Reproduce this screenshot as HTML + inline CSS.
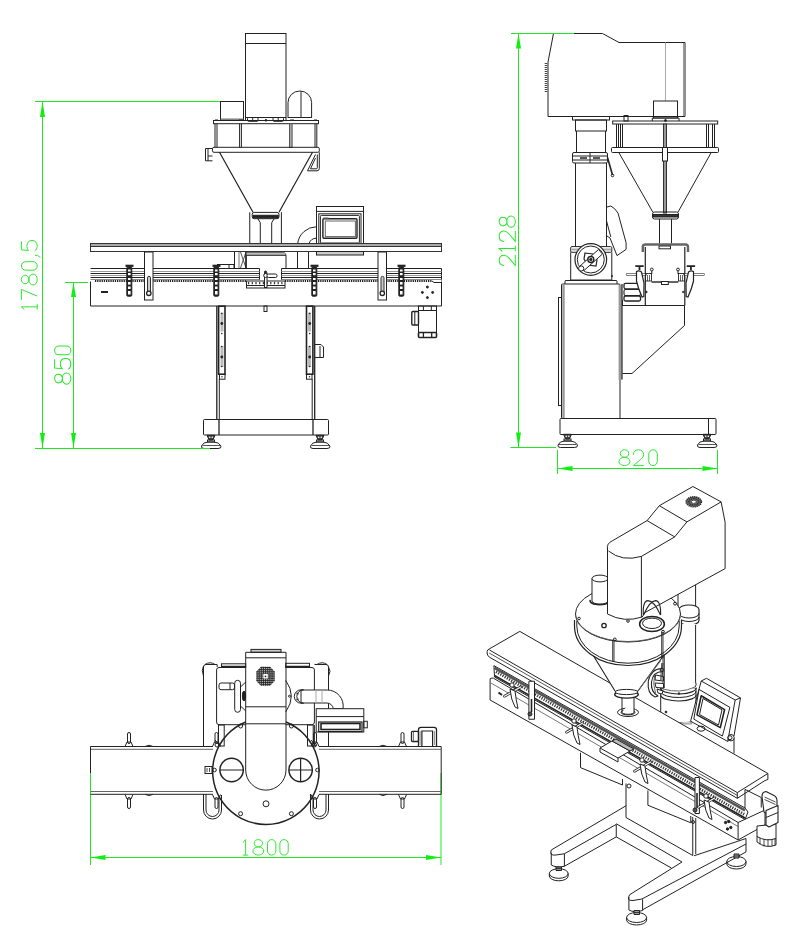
<!DOCTYPE html>
<html><head><meta charset="utf-8">
<style>
html,body{margin:0;padding:0;background:#fff;width:800px;height:943px;overflow:hidden}
svg{display:block}
.g{stroke:#22e622;fill:none;stroke-width:1}
.ga{fill:#11ee11;stroke:none}
.gt{fill:none;stroke:#2ae62a;stroke-width:1;font-family:"Liberation Sans",sans-serif;font-weight:normal}
</style></head><body>
<svg width="800" height="943" viewBox="0 0 800 943">
<defs>
<path id="d1" d="M0,3 L2.8,0 V16 M0,16 H5.6"/>
<path id="d8" d="M5.6,0 C8,0 9.9,1.6 9.9,3.8 C9.9,6 8,7.6 5.6,7.6 C3.2,7.6 1.3,6 1.3,3.8 C1.3,1.6 3.2,0 5.6,0 Z M5.6,7.6 C8.7,7.6 11.1,9.4 11.1,11.8 C11.1,14.2 8.7,16 5.6,16 C2.5,16 0,14.2 0,11.8 C0,9.4 2.5,7.6 5.6,7.6 Z"/>
<path id="d0" d="M0,4.3 A4.3,4.3 0 0 1 8.6,4.3 V11.7 A4.3,4.3 0 0 1 0,11.7 Z"/>
<path id="d2" d="M0.4,4.9 C0.4,1.8 2.6,0 5.5,0 C8.6,0 10.7,1.9 10.7,4.8 C10.7,6.9 9.6,8.3 7.2,10.2 L0.4,16 H11"/>
<path id="d7" d="M0,0 H10.5 L3.8,16"/>
<path id="d5" d="M10,0 H1.3 L0.7,7.3 C2,6.1 3.6,5.6 5.4,5.6 C8.7,5.6 10.8,7.8 10.8,10.8 C10.8,14 8.6,16 5.4,16 C3,16 1.2,15.1 0.2,13.5"/>
<path id="dc" d="M2.6,13.8 V16.2 L0.4,19.2"/>
</defs>
<g fill="none" stroke="#222" stroke-width="1">
<!-- ============ FRONT VIEW (top-left) ============ -->
<!-- motor box -->
<rect x="245.5" y="33.5" width="40.5" height="84"/>
<line x1="245.5" y1="43.5" x2="286" y2="43.5" stroke-width="1.2"/>
<path d="M245.5,117.5 V121 M286,117.5 V121"/>
<rect x="247.5" y="117.5" width="10.5" height="3.8" rx="1"/><line x1="252.7" y1="117.5" x2="252.7" y2="121.3"/>
<rect x="273" y="117.5" width="10.5" height="3.8" rx="1"/><line x1="278.2" y1="117.5" x2="278.2" y2="121.3"/>
<circle cx="265.9" cy="120.3" r="0.9" fill="#222"/>
<!-- small box -->
<rect x="220.5" y="101.5" width="23" height="18.5"/>
<line x1="220.5" y1="119" x2="243.5" y2="119" stroke="#777"/>
<!-- dome -->
<path d="M288,118 V102.5 A11.8,11.5 0 0 1 311.6,102.5 V118"/>
<line x1="301" y1="91.5" x2="301" y2="117"/>
<line x1="288" y1="117.5" x2="311.6" y2="117.5"/>
<!-- top plate -->
<rect x="213.5" y="120.5" width="105" height="3.2"/>
<path d="M215,120.2 h3 M239,120.2 h4 M290,120.2 h4 M314,120.2 h3" stroke-width="1.6"/>
<!-- posts -->
<line x1="215" y1="123.7" x2="215" y2="147.5"/><line x1="217" y1="123.7" x2="217" y2="147.5"/>
<line x1="239.6" y1="123.7" x2="239.6" y2="147.5"/><line x1="241.4" y1="123.7" x2="241.4" y2="147.5"/>
<rect x="289.5" y="123.7" width="2.6" height="23.8" fill="#aaa" stroke="#555"/>
<line x1="315" y1="123.7" x2="315" y2="147.5"/><line x1="316.8" y1="123.7" x2="316.8" y2="147.5"/>
<!-- lower band -->
<rect x="212.5" y="147.3" width="106.8" height="5" rx="1.5"/>
<!-- left bracket -->
<path d="M212.5,148.5 H205.5 V160.8 H212.5 M208,148.5 V160.8 M208,156 H212.5"/>
<!-- cone -->
<path d="M219.5,152.3 L253,212.2 M312.5,152.3 L279,212.2" stroke-width="1.2"/>
<!-- right bracket -->
<path d="M319.3,152.3 V168.5 Q319.3,170.8 317,170.8 H307.5 L315.5,154.5 M317.3,154.5 V167.8 Q317.3,168.8 316.3,168.8 H310.5 L315.5,158"/>
<!-- collar -->
<rect x="252.2" y="212.4" width="26.8" height="6.3" rx="2"/>
<rect x="253" y="215.3" width="25.2" height="2.6" fill="#222"/>
<path d="M257.9,218.7 L260.3,222.75 V243.5 M274.1,218.7 L271.7,222.75 V243.5"/>
<!-- spout/pipes -->
<line x1="249.75" y1="212.2" x2="249.75" y2="243.5"/><line x1="281.4" y1="212.2" x2="281.4" y2="243.5"/>
<!-- screen box -->
<rect x="316.5" y="206.5" width="47" height="37"/>
<line x1="316.5" y1="211.4" x2="363.5" y2="211.4"/>
<rect x="318.8" y="213.8" width="42.2" height="29.7"/>
<rect x="320.4" y="215.4" width="39" height="27.6" rx="1"/>
<rect x="322.9" y="218.7" width="34.1" height="19.5" rx="1" stroke-width="1.4"/>
<rect x="325.3" y="221" width="30.1" height="15.6" stroke="#666"/>
<rect x="323.5" y="217.5" width="5" height="1.6" fill="#555" stroke="none"/>
<!-- elbow -->
<path d="M316.4,226.8 A19,19 0 0 0 297.7,243.5 M316.4,238.2 A8,8 0 0 0 309,243.5"/>
<!-- table top -->
<rect x="90.5" y="243.5" width="351" height="3" fill="#aaa" stroke="#333"/>
<rect x="90.5" y="246.5" width="351" height="5" fill="#fff" stroke="#333"/>
<rect x="316.5" y="251.5" width="47" height="3.5" fill="#ccc"/>
<!-- posts under table -->
<line x1="234.5" y1="252" x2="234.5" y2="268"/><line x1="239" y1="252" x2="239" y2="268" stroke="#777"/>
<path d="M240.5,252 L246,268 M246,252 L240.5,268" stroke="#555"/>
<line x1="246" y1="252" x2="246" y2="268" stroke-width="1.5"/>
<path d="M246,268 V252.5 H284 Q286,253 286,256 V268"/>
<rect x="246.5" y="252.5" width="39" height="2.8" fill="#bbb" stroke="none"/>
<line x1="246" y1="255.3" x2="286" y2="255.3"/>
<line x1="297.5" y1="252" x2="297.5" y2="268"/>
<line x1="308.5" y1="252" x2="308.5" y2="268"/>
<rect x="217.5" y="264.5" width="16.5" height="4"/>
<line x1="229" y1="264.5" x2="229" y2="268.5"/>
<!-- conveyor rails (front view) -->
<g stroke="#222" stroke-width="1">
<path d="M90.5,268.5 H259.5 V280 M281.5,280 V268.5 H441.5 V280.5"/>
<line x1="90.5" y1="271.5" x2="259.5" y2="271.5" stroke="#999"/><line x1="281.5" y1="271.5" x2="441.5" y2="271.5" stroke="#999"/>
<line x1="90.5" y1="273.5" x2="259.5" y2="273.5"/><line x1="281.5" y1="273.5" x2="441.5" y2="273.5"/>
<line x1="90.5" y1="275.5" x2="259.5" y2="275.5" stroke="#999"/><line x1="281.5" y1="275.5" x2="441.5" y2="275.5" stroke="#999"/>
<line x1="90.5" y1="277.5" x2="259.5" y2="277.5"/><line x1="281.5" y1="277.5" x2="441.5" y2="277.5"/>
<line x1="90.5" y1="279.5" x2="259.5" y2="279.5" stroke="#888"/><line x1="281.5" y1="279.5" x2="441.5" y2="279.5" stroke="#888"/>
</g>
<line x1="95" y1="281" x2="246" y2="281" stroke="#222" stroke-width="1.8" stroke-dasharray="1.3 0.9"/>
<line x1="285" y1="281" x2="432" y2="281" stroke="#222" stroke-width="1.8" stroke-dasharray="1.3 0.9"/>
<path d="M432,281 L434,282.5 H441.5"/>
<!-- chain box middle -->
<rect x="246.5" y="281" width="38.5" height="7" fill="#fff"/>
<line x1="246.5" y1="285.5" x2="285" y2="285.5"/>
<line x1="248" y1="283.2" x2="284" y2="283.2" stroke="#333" stroke-width="2.2" stroke-dasharray="1.2 2.5"/>
<rect x="264.5" y="273" width="2.5" height="14.5" fill="#fff"/>
<circle cx="265.7" cy="275.5" r="2" fill="#fff"/>
<rect x="267" y="274" width="10" height="3.5" rx="1.5" fill="#fff"/>
<circle cx="265.5" cy="272" r="1" fill="#222"/>
<!-- front plate -->
<path d="M90.5,281.5 V306 H441.5 V281.5"/>
<line x1="101" y1="292" x2="108" y2="292" stroke-width="2"/>
<circle cx="427.4" cy="287" r="1" fill="#222"/><circle cx="422.4" cy="292.4" r="1" fill="#222"/>
<circle cx="432.6" cy="292.4" r="1" fill="#222"/><circle cx="427.4" cy="297.6" r="1" fill="#222"/>
<!-- leg brackets hanging from table -->
<rect x="144.5" y="252" width="8.5" height="48" fill="#fff"/>
<rect x="147.5" y="276.3" width="3" height="18" rx="1.5" fill="#ccc" stroke="#333"/>
<circle cx="148.8" cy="293.3" r="2.2" fill="#fff" stroke-width="1.3"/>
<rect x="378" y="252" width="8.5" height="48" fill="#fff"/>
<rect x="381" y="276.3" width="3" height="18" rx="1.5" fill="#ccc" stroke="#333"/>
<circle cx="382.3" cy="293.3" r="2.2" fill="#fff" stroke-width="1.3"/>
<!-- clamps -->
<g id="clampF">
<path d="M125.5,265.8 H133.5" stroke-width="2.2"/>
<rect x="126.8" y="267" width="5" height="29.2" rx="1" fill="#222" stroke="#222"/>
<g fill="#fff" stroke="none">
<rect x="128" y="269.5" width="2.6" height="2"/><rect x="128" y="273" width="2.6" height="2.2"/>
<rect x="128" y="278" width="2.6" height="2"/><rect x="128" y="282" width="2.6" height="2.6"/>
<rect x="128" y="286.5" width="2.6" height="2.5"/><rect x="128" y="291" width="2.6" height="3.5"/>
</g>
</g>
<use href="#clampF" x="87"/>
<use href="#clampF" x="185"/>
<use href="#clampF" x="272"/>
<!-- small tab under -->
<rect x="264" y="306" width="3" height="5.5"/>
<!-- motor -->
<rect x="418.5" y="306" width="18" height="4.5"/>
<line x1="423.4" y1="306" x2="423.4" y2="310.5"/><line x1="431.3" y1="306" x2="431.3" y2="310.5"/>
<rect x="418.5" y="310.5" width="18" height="22"/>
<rect x="418.5" y="332.5" width="18" height="5" rx="1" stroke-width="1.6"/>
<line x1="423.4" y1="332.5" x2="423.4" y2="337.5" stroke-width="1.3"/><line x1="431.7" y1="332.5" x2="431.7" y2="337.5" stroke-width="1.3"/>
<rect x="411.8" y="311.5" width="6.7" height="13.5" rx="1" stroke-width="1.4"/>
<line x1="414.8" y1="311.5" x2="414.8" y2="325"/>
<!-- legs -->
<g id="legF">
<rect x="218.6" y="306.2" width="6.4" height="68" stroke-width="1.6" fill="#fff"/>
<rect x="220.5" y="312.5" width="3" height="19" fill="#bbb" stroke="none"/>
<rect x="220.5" y="346" width="3" height="21" fill="#bbb" stroke="none"/>
<circle cx="221.8" cy="313.5" r="0.8" fill="#222" stroke="none"/><circle cx="221.8" cy="323.5" r="1.4" fill="#222" stroke="none"/>
<circle cx="221.8" cy="333.5" r="0.8" fill="#222" stroke="none"/><circle cx="221.8" cy="346.5" r="0.8" fill="#222" stroke="none"/>
<circle cx="221.8" cy="357" r="1.4" fill="#222" stroke="none"/><circle cx="221.8" cy="366.5" r="0.8" fill="#222" stroke="none"/>
<rect x="219.5" y="374.5" width="5.5" height="4.7"/>
<circle cx="222" cy="376.8" r="0.7" fill="#222" stroke="none"/>
<line x1="216.8" y1="306" x2="216.8" y2="419.5" stroke-width="1.3"/>
<line x1="219.3" y1="379" x2="219.3" y2="419.5"/>
</g>
<use href="#legF" transform="translate(531.5,0) scale(-1,1)"/>
<path d="M315,344.5 H321 L323.5,347 V357.5 H315"/>
<line x1="320" y1="346" x2="320" y2="357"/>
<!-- base -->
<rect x="203.5" y="419.5" width="125" height="15.5" rx="1"/>
<line x1="219" y1="419.5" x2="219" y2="435" stroke-width="1.3"/><line x1="313" y1="419.5" x2="313" y2="435" stroke-width="1.3"/>
<!-- feet -->
<g id="footF">
<path d="M207,435.3 L209.2,440 H212.8 L215,435.3 Z" fill="#444"/>
<circle cx="209.7" cy="437.2" r="0.8" fill="#fff" stroke="none"/><circle cx="212.3" cy="437.2" r="0.8" fill="#fff" stroke="none"/>
<rect x="207.5" y="440" width="7" height="2"/>
<path d="M201.5,446 Q203,442.2 208,442 H214 Q219,442.2 221,446 Q221.5,448.5 218,448.5 H204 Q201,448.5 201.5,446 Z"/>
<path d="M202.5,445.5 H220" stroke="#555"/>
</g>
<use href="#footF" x="109"/>
</g>

<!-- ============ DIMENSIONS FRONT ============ -->
<g class="g">
<line x1="35" y1="101.5" x2="220" y2="101.5"/>
<line x1="42.5" y1="101" x2="42.5" y2="448"/>
<line x1="35" y1="448.5" x2="210" y2="448.5"/>
<line x1="65" y1="282.5" x2="88" y2="282.5"/>
<line x1="73.5" y1="282" x2="73.5" y2="448"/>
</g>
<path class="ga" d="M42.5,101.5 L40,117 H45 Z M42.5,448 L40,433 H45 Z M73.5,282.5 L71,297 H76 Z M73.5,448 L71,433 H76 Z"/>

<g fill="none" stroke="#222" stroke-width="1">
<!-- ============ SIDE VIEW (top-right) ============ -->
<!-- housing -->
<path d="M553.5,33.5 H602.5 L619,42.5 H685 V116.5 H548 V62 Z"/>
<line x1="683.5" y1="43" x2="683.5" y2="116" stroke="#999"/>
<line x1="665.5" y1="42.5" x2="665.5" y2="101" stroke="#aaa"/>
<rect x="653.5" y="101" width="24" height="17"/>
<path d="M652.3,121 V118 H679 V121" />
<circle cx="665.5" cy="120.5" r="1" fill="#222"/>
<line x1="546" y1="63" x2="546" y2="92" stroke-width="2.6" stroke="#444" stroke-dasharray="1.1 0.9"/>
<rect x="624" y="115.5" width="4" height="5.5"/>
<!-- column -->
<rect x="572.5" y="116.5" width="37" height="3.5"/>
<rect x="575.5" y="120" width="31" height="11"/>
<line x1="576.5" y1="131" x2="576.5" y2="153"/><line x1="605.5" y1="131" x2="605.5" y2="153"/>
<rect x="572.5" y="152.5" width="35" height="10.5" rx="1.5"/>
<line x1="572.5" y1="156" x2="607.5" y2="156"/><line x1="572.5" y1="160" x2="607.5" y2="160"/>
<line x1="590" y1="152.5" x2="590" y2="163"/>
<line x1="580" y1="158" x2="587" y2="158" stroke-width="1.5"/><line x1="593" y1="158" x2="600" y2="158" stroke-width="1.5"/>
<path d="M607.5,157.5 L612.5,175" stroke-width="1.6"/>
<circle cx="612.5" cy="175.5" r="1.3"/>
<line x1="575.5" y1="163" x2="575.5" y2="246.5"/><line x1="606.5" y1="163" x2="606.5" y2="246.5"/>
<!-- paddle -->
<path d="M607,207 L610.8,206 Q615,208 618,213.1 L626.1,242.8 V249.4 L617,255.6 L610,238 L607,236"/>
<path d="M606.5,220.8 L610.8,237"/>
<!-- wheel housing -->
<rect x="570.7" y="246.6" width="41.1" height="5.7" rx="1.2"/>
<rect x="571.5" y="248.5" width="39.5" height="2" fill="#aaa" stroke="none"/>
<path d="M570.7,252.3 V280 H611.8 V252.3"/>
<circle cx="590.8" cy="259.5" r="15.8" fill="#fff" stroke-width="1.2"/>
<circle cx="590.8" cy="259.5" r="13.5"/>
<path d="M585,253 L593,254 L597,260 L596,266 L588,265 L584,259 Z" fill="#fff" stroke-width="1.2"/>
<path d="M580,266 L598.5,249.5 L602.5,254 L584,270.5 Z" fill="#fff"/>
<circle cx="590.8" cy="259.5" r="3" fill="#fff" stroke-width="1.4"/>
<circle cx="590.8" cy="259.5" r="1.2" fill="#222"/>
<circle cx="581.2" cy="268.5" r="2.6" fill="#fff"/>
<circle cx="612" cy="276" r="0.6" fill="#222"/>
<!-- cabinet -->
<path d="M565,284 V281 Q565,280.5 566,280.5 H616 Q617,280.5 617,281 V284"/>
<rect x="561.5" y="284" width="58.5" height="134.5" rx="1"/>
<rect x="562.3" y="285" width="2.4" height="133" fill="#999" stroke="none"/>
<rect x="618.6" y="285" width="3" height="95" fill="#999" stroke="none"/>
<line x1="622" y1="284" x2="622" y2="379.5" stroke-width="1.2"/>
<rect x="558.5" y="297.5" width="3" height="108"/>
<!-- hopper lower -->
<path d="M622.5,305.5 H684.5 V325.5 L632,373.5 H622.5"/>
<!-- small motor block beside -->
<rect x="624" y="283.3" width="16.5" height="5.5" rx="1.5" stroke-width="1.3"/>
<rect x="624" y="289.5" width="16.5" height="6" rx="1.5" stroke-width="1.1"/>
<rect x="624" y="296" width="16.5" height="5" rx="1.5" stroke-width="1.3"/>
<!-- base -->
<rect x="560" y="418.5" width="156" height="16" rx="1"/>
<line x1="708.5" y1="418.5" x2="708.5" y2="435"/>
<use href="#footF" x="356.5" y="-1"/>
<use href="#footF" x="496" y="-1"/>
<!-- hopper top side -->
<rect x="612.7" y="121" width="105" height="3"/>
<line x1="616.5" y1="124" x2="616.5" y2="147.5"/><line x1="618.5" y1="124" x2="618.5" y2="147.5"/>
<line x1="620.5" y1="124" x2="620.5" y2="147.5"/><line x1="622.5" y1="124" x2="622.5" y2="147.5"/>
<line x1="706.5" y1="124" x2="706.5" y2="147.5"/><line x1="708.5" y1="124" x2="708.5" y2="147.5"/>
<line x1="712.5" y1="124" x2="712.5" y2="147.5"/><line x1="714.5" y1="124" x2="714.5" y2="147.5"/>
<rect x="611.5" y="147.5" width="107" height="5" rx="1"/>
<rect x="663.5" y="124" width="3" height="89" fill="#999" stroke="#333"/>
<rect x="662.5" y="147.5" width="5" height="13.5" fill="#fff"/>
<path d="M618.7,152.3 L652.8,212.1 M711.3,152.3 L678,212.1"/>
<rect x="652.5" y="212" width="26" height="7" rx="2"/>
<rect x="653" y="214.5" width="25" height="2.5" fill="#333"/>
<line x1="659.5" y1="219" x2="659.5" y2="243.5"/><line x1="671.5" y1="219" x2="671.5" y2="243.5"/>
<!-- bucket -->
<path d="M642.8,252 V247 Q642.8,244.5 645.5,244.5 H685.5 Q688,244.5 688,247 V252" stroke="#666" stroke-width="2.4"/>
<rect x="659" y="246" width="11.5" height="2.8" fill="#fff"/>
<line x1="645.3" y1="247" x2="645.3" y2="305.5" stroke-width="1.2"/><line x1="684.8" y1="247" x2="684.8" y2="305.5" stroke-width="1.2"/>
<line x1="651.5" y1="282" x2="678.3" y2="282" stroke-width="1.4"/>
<rect x="661.5" y="281.5" width="6.8" height="3" fill="#fff"/>
<line x1="622.5" y1="305.5" x2="684.8" y2="305.5" stroke-width="1.2"/>
<!-- clamps on side view -->
<path d="M627,274.5 H645.5 M684.5,274.5 H703.5" stroke="#555" stroke-width="2.6" stroke-linecap="round"/>
<path d="M627,274.5 H645.5 M684.5,274.5 H703.5" stroke="#fff" stroke-width="1" stroke-linecap="round"/>
<path d="M635.3,266.2 H643.7 M639.5,266 V270 M686.7,266.2 H695.1 M690.9,266 V270" stroke-width="1.8"/>
<path d="M636.5,271.5 Q639,270 641.5,272 L644,283 L643.8,296.5 L642,297 Q638,288 636.5,281 Z" fill="#fff" stroke-width="1.2"/>
<path d="M693.5,271.5 Q691,270 688.5,272 L686,283 L686.2,296.5 L688,297 Q692,288 693.5,281 Z" fill="#fff" stroke-width="1.2"/>
<rect x="645.5" y="273.5" width="6" height="7.5" stroke-width="0.9"/><rect x="678.5" y="273.5" width="6" height="7.5" stroke-width="0.9"/>
<path d="M647.5,275 V281 M649.5,275 V281 M680.5,275 V281 M682.5,275 V281" stroke-width="0.7"/>
<circle cx="651.8" cy="269.5" r="1.4"/><circle cx="678" cy="269.5" r="1.4"/>
<line x1="651.8" y1="271" x2="651.8" y2="274"/><line x1="678" y1="271" x2="678" y2="274"/>
<circle cx="646.5" cy="292" r="0.7" fill="#222"/><circle cx="683.2" cy="292" r="0.7" fill="#222"/>
<line x1="622.5" y1="305.5" x2="622.5" y2="300"/>
</g>

<g class="g">
<line x1="511" y1="33.5" x2="574" y2="33.5"/>
<line x1="518.5" y1="33.5" x2="518.5" y2="447.5"/>
<line x1="510.5" y1="447.5" x2="556" y2="447.5"/>
<line x1="557.5" y1="450" x2="557.5" y2="474"/>
<line x1="717.5" y1="450" x2="717.5" y2="474"/>
<line x1="557.5" y1="468.5" x2="717.5" y2="468.5"/>
<line x1="90.5" y1="773" x2="90.5" y2="865"/>
<line x1="441" y1="773" x2="441" y2="865"/>
<line x1="90.5" y1="857.5" x2="441" y2="857.5"/>
</g>
<path class="ga" d="M518.5,33.5 L516,48.5 H521 Z M518.5,447.5 L516,432.5 H521 Z M557.5,468.5 L572.5,466 V471 Z M717.5,468.5 L702.5,466 V471 Z M90.5,857.5 L105.5,855 V860 Z M441,857.5 L426,855 V860 Z"/>


<g fill="none" stroke="#222" stroke-width="1">
<!-- ============ TOP VIEW (bottom-left) ============ -->
<!-- frame posts -->
<path d="M203.5,747 V667 Q203.5,664.5 206,664.5 H217"/>
<line x1="217.2" y1="664.5" x2="217.2" y2="667"/>
<path d="M203.5,666 Q201,670 203.5,676" />
<path d="M205,664.5 Q210,661 215,664.5"/>
<path d="M328.5,747 V667 Q328.5,664.5 326,664.5 H314.5"/>
<path d="M317,664.5 Q322,661 327,664.5"/>
<path d="M328.5,667 Q331.5,671 328.5,676"/>
<!-- top bars -->
<rect x="221.5" y="663.8" width="24.2" height="3.6"/>
<line x1="222" y1="666.5" x2="245.7" y2="666.5" stroke-width="1.5"/>
<rect x="285.7" y="663.3" width="23.8" height="4.2"/>
<line x1="285.7" y1="666.5" x2="309.5" y2="666.5" stroke-width="1.5"/>
<!-- inner box -->
<path d="M245.7,667.5 H219 Q216.6,667.5 216.6,670 V722 Q216.6,724.7 219,724.7 H245.7"/>
<path d="M285.7,667.5 H312 Q314.4,667.5 314.4,670 V722 Q314.4,724.7 312,724.7 H285.7"/>
<!-- legs to conveyor -->
<rect x="218.5" y="725" width="5.7" height="21"/>
<rect x="307.5" y="725" width="5.7" height="21"/>
<path d="M215,740 L220,746 M311,740 L316,746"/>
<circle cx="217" cy="745" r="2"/><circle cx="314.5" cy="745" r="2"/>
<!-- handwheel -->
<rect x="219" y="683" width="15.5" height="6.7" rx="2"/>
<line x1="230" y1="683" x2="230" y2="689.7"/>
<rect x="234.7" y="680.3" width="5.8" height="32" rx="2.9"/>
<path d="M240.5,687 L245.7,682 M240.5,706 L245.7,711"/>
<ellipse cx="244" cy="696" rx="1.6" ry="5" fill="#222"/>
<!-- arm right bulge -->
<path d="M285.7,680.4 Q297,696 285.7,712"/>
<circle cx="289.5" cy="696.2" r="1"/>
<!-- elbow pipe -->
<path d="M301,690 H327.2 A16,16 0 0 1 343,708.7 H333.3 A6.5,6.5 0 0 0 327,703 H301 Z" fill="#fff"/>
<path d="M301,689.8 A6.7,6.7 0 0 0 301,703.2 L303.5,703.2 A4.2,4.2 0 0 1 303.5,689.8 Z" fill="#fff"/>
<path d="M296,693 L299,694 M296,700 L299,699" stroke-width="0.8"/>
<line x1="316" y1="690" x2="316" y2="703" stroke="#aaa"/><line x1="322" y1="690" x2="322" y2="703" stroke="#aaa"/>
<!-- screen -->
<rect x="316.2" y="708.7" width="47.6" height="23.3" fill="#fff"/>
<line x1="316.2" y1="716.6" x2="363.8" y2="716.6"/>
<rect x="318.7" y="722" width="43.3" height="9.6" stroke-width="1.2"/>
<rect x="321" y="723.5" width="39" height="6" stroke-width="1.6"/>
<rect x="363.8" y="721.3" width="3.5" height="6.5"/>
<!-- vertical thin frame lines -->
<line x1="314.4" y1="725" x2="314.4" y2="746.6"/>
<line x1="328.5" y1="732" x2="328.5" y2="746.6"/>
<!-- conveyor top view -->
<path d="M90.5,746.5 H213 M319,746.5 H441.2 V794.3 H319 M213,794.3 H90.5"/>
<line x1="90.5" y1="749.3" x2="213" y2="749.3" stroke="#666"/><line x1="319" y1="749.3" x2="441.2" y2="749.3" stroke="#666"/>
<line x1="90.5" y1="791.5" x2="213" y2="791.5" stroke="#666"/><line x1="319" y1="791.5" x2="441.2" y2="791.5" stroke="#666"/>
<path d="M90.5,746.5 V773"/>
<path d="M145,746.5 Q149,744 153,746.5 M145,794.3 Q149,796.8 153,794.3 M379,746.5 Q383,744 387,746.5 M379,794.3 Q383,796.8 387,794.3"/>
<!-- motor top view -->
<rect x="411.5" y="731.3" width="7" height="10.2" rx="1" stroke-width="1.3"/>
<line x1="413.5" y1="732" x2="413.5" y2="741" stroke="#777"/>
<path d="M418.5,746 V729.5 Q418.5,727.3 421,727.3 H434 Q436.5,727.3 436.5,729.5 V746" stroke-width="1.3"/>
<path d="M421.9,746 V731 H432.6 V746" stroke-width="1.2"/>
<line x1="420.2" y1="731" x2="420.2" y2="745" stroke="#999"/><line x1="434.5" y1="731" x2="434.5" y2="745" stroke="#999"/>
<!-- arm -->
<rect x="251" y="649.4" width="30" height="2.9" fill="#ccc"/>
<path d="M245.7,770 V652.3 H286 V770 A20.15,20.15 0 0 1 245.7,770"/>
<line x1="245.7" y1="657.8" x2="286" y2="657.8"/>
<line x1="245.7" y1="706.8" x2="286" y2="706.8"/>
<line x1="245.7" y1="723.8" x2="286" y2="723.8"/>
<!-- mesh vent -->
<clipPath id="meshc"><path d="M261,666.8 H270 L274.6,671.5 V681 L270,685.7 H261 L256.4,681 V671.5 Z"/></clipPath>
<g clip-path="url(#meshc)">
<rect x="256" y="666" width="19" height="20" fill="#bbb" stroke="none"/>
<path d="M256,667.50 H275 M256,669.65 H275 M256,671.80 H275 M256,673.95 H275 M256,676.10 H275 M256,678.25 H275 M256,680.40 H275 M256,682.55 H275 M256,684.70 H275 M257.00,666 V686 M259.15,666 V686 M261.30,666 V686 M263.45,666 V686 M265.60,666 V686 M267.75,666 V686 M269.90,666 V686 M272.05,666 V686 M274.20,666 V686" stroke="#222" stroke-width="0.9"/>
</g>
<rect x="263.3" y="674" width="4.5" height="4.5" fill="#fff" stroke="none"/>
<circle cx="265.5" cy="676.3" r="0.9" fill="#222" stroke="none"/>
<!-- big circle -->
<path d="M245.7,722 A53.2,53.2 0 1 0 286,722" stroke-width="1.5"/>
<circle cx="231.6" cy="770" r="11.7" stroke-width="1.5"/>
<line x1="220" y1="770" x2="243.3" y2="770"/>
<circle cx="300.6" cy="770" r="11.7" stroke-width="1.5"/>
<path d="M289,770 H312.3 M300.6,758.3 V781.7" stroke-width="1.2"/>
<circle cx="266" cy="803.8" r="3"/>
<circle cx="240.6" cy="813.7" r="2"/><circle cx="291.4" cy="813.7" r="2"/>
<circle cx="240.6" cy="726" r="2"/><circle cx="291.4" cy="726" r="2"/>
<circle cx="317.5" cy="770" r="1.8"/>
<circle cx="214.5" cy="770" r="1.8"/>
<rect x="205" y="766.5" width="7" height="7"/>
<path d="M207,768 V772 M209.5,768 V772" stroke-width="0.8"/>
<!-- loops -->
<path d="M203.5,794 V810 A9,9 0 0 0 221.5,810 V795 M206,794 V810 A6.5,6.5 0 0 0 219,810 V796"/>
<path d="M310.5,794 V810 A9,9 0 0 0 328.5,810 V794 M313,796 V810 A6.5,6.5 0 0 0 326,810 V794"/>
<!-- clamps top view -->
<g id="clT">
<rect x="127.5" y="732.5" width="3" height="11" rx="1.5"/>
<path d="M125,746.5 L127,742 H131 L133,746.5"/>
<rect x="127.5" y="797.5" width="3" height="11" rx="1.5"/>
<path d="M125,794.5 L127,799 H131 L133,794.5"/>
</g>
<use href="#clT" x="273.5"/>
<use href="#clT" x="87.5" y="0"/>
<use href="#clT" x="186"/>
</g>


<g fill="none" stroke="#222" stroke-width="1" stroke-linejoin="round">
<!-- ============ ISO VIEW (bottom-right) ============ -->
<!-- base frame -->
<path d="M551.25,850 L626.25,805.6"/>
<path d="M564.4,853.75 L616.25,824.4 V836.9 L564.4,866.25"/>
<path d="M551.25,850 Q549,856 556,855 L564.4,853.75"/>
<path d="M551.25,852.5 V865 Q556,868 564.4,866.25 V853.75"/>
<path d="M616.25,823.75 L682,862 M616.25,836.9 L671.4,868"/>

<path d="M629.6,894.75 L682,862 M694,855.8 L746,838.5 M629.6,894.75 Q626,901 633,900.5 L641.9,899 L746,844"/>
<path d="M628.9,897 V910 Q634,913 642.6,910.5 V899.3 M642.6,909.8 L746,851.9 V838.5"/>
<!-- feet -->
<ellipse cx="558.75" cy="873.5" rx="9.4" ry="4.8"/><path d="M549.35,873.5 V876 A9.4,4.8 0 0 0 568.15,876 V873.5"/>
<rect x="556" y="867" width="5.5" height="3.5" fill="#999"/><path d="M556,868.5 H561.5" stroke-width="0.8"/>
<ellipse cx="636.6" cy="917.5" rx="10" ry="5"/><path d="M626.6,917.5 V920 A10,5 0 0 0 646.6,920 V917.5"/>
<rect x="634" y="910.5" width="5.5" height="4" fill="#999"/><path d="M634,912.5 H639.5" stroke-width="0.8"/>
<ellipse cx="736.4" cy="861.5" rx="9.6" ry="5"/><path d="M726.8,861.5 V864 A9.6,5 0 0 0 746,864 V861.5"/>
<rect x="734" y="854" width="5" height="4" fill="#999"/><path d="M734,856 H739" stroke-width="0.8"/>
<!-- cabinet -->
<path d="M626,783.4 V817.5 M692.75,817 V855.5 M695.75,818 V854 M626,817.5 L692.75,855.5"/>
<path d="M580.5,752.75 V767.6 L622.5,785 V779"/>
<path d="M647.9,790.4 V805.25 L690.75,822.75 V816"/>
<circle cx="629" cy="786" r="2"/><circle cx="693" cy="822" r="1.5"/>
<!-- ===== column (behind) ===== -->
<path d="M678,575 V610 H695.6 V575 Z" fill="#fff"/>
<path d="M679,609.5 V620.5 A10,4.5 0 0 0 699,620.5 V609.5 A10,4.5 0 0 0 679,609.5 Z" fill="#fff" stroke-width="1.2"/>
<path d="M679,613.5 A10,4.5 0 0 0 699,613.5 M679,617 A10,4.5 0 0 0 699,617"/>
<!-- lower column + ring -->
<path d="M660.7,688 V720 Q678,725.5 696,721 V688 Z" fill="#fff"/>
<path d="M660.7,688.5 A17.7,6 0 0 0 696,687.5" stroke-width="1.1"/>
<path d="M660.7,692 A17.7,6 0 0 0 696,691" />
<path d="M660.7,695.5 A17.7,6 0 0 0 696,694.5" stroke-width="1.1"/>
<path d="M664,624 H695.6 V688 Q680,693 663,689 Z" fill="#fff" stroke="none"/>
<path d="M695.6,625 V682 Q697,685 695,687"/>
<path d="M663,640 V689 M664.3,640 V688" stroke-width="0.9"/>
<path d="M663,689 Q680,694 695,687" stroke="#666"/>
<circle cx="679" cy="693.5" r="0.8" fill="#222"/>
<circle cx="666" cy="712" r="0.9" fill="#222"/>
<path d="M681,722 L684,724 H692 L690,721.5" fill="#ccc" stroke="#999"/>
<!-- handwheel side -->
<path d="M661.5,668.5 Q651,669 648.3,681 Q647,694 655,697 L658,696 Q650.5,692 651.5,682 Q653,671.5 662.5,671.5 Z" fill="#fff" stroke-width="1.1"/>
<path d="M654.5,676 Q652.5,684 655.5,693" stroke="#666"/>
<path d="M655.5,675 L663.5,676.5 V681 L655,680 Z M655,683 L663.5,683.5 V688 L656,687.5 Z" fill="#fff" stroke-width="1"/>
<circle cx="662" cy="670" r="1.8" fill="#fff"/>
<path d="M657,689 L663,691 L662,694 L658,693 Z" fill="#fff"/>
<!-- ===== table top ===== -->
<path d="M519.8,631.4 L767.9,773.5 V779.5 L765,780.5 L737.3,798.3 L490,657.5 Q487.1,656 487.1,653 V651.5 Q487.1,649.8 490,648.5 Z" fill="#fff"/>
<path d="M489.5,650 L737.3,792.6 L767.9,773.5"/>
<path d="M489.2,653 L737.3,795.4" stroke="#555"/>
<path d="M737.3,792.6 V798.3"/>
<!-- hide table line behind spout etc: spout drawn later -->
<!-- ===== screen ===== -->
<path d="M701.2,681 L706.5,678.3 L740.5,697.9 L734,736 L727.7,741.4 L690.6,721.2 Z" fill="#fff"/>
<path d="M734,738 V753.5"/>
<path d="M701.2,681 L735.2,700 L740.5,697.9 M735.2,700 L727.7,741.4"/>
<path d="M699,689.4 L729.9,707.4 L722.4,736.1 L693.8,719.1 Z"/>
<path d="M701.2,695.8 L724.6,709.6 L720.3,727.6 L697,714.9 Z" stroke-width="1.6"/>
<path d="M703,698.5 L722,709.8 L718.5,725 L699.5,714.5 Z"/>
<circle cx="731" cy="737.7" r="3.2" fill="#fff"/><circle cx="730" cy="737.7" r="2" />
<ellipse cx="701" cy="728.7" rx="4" ry="2.5"/>
<!-- ===== conveyor body ===== -->
<path d="M490.1,678.8 Q490.5,678 493.25,678.1 L738.1,822.5 L765,810 V825 L738.1,840 L490.1,700 Z" fill="#fff"/>
<path d="M491,683 L738.1,826.5" stroke="#777"/>
<path d="M738.1,822.5 V840"/>
<!-- rail -->
<path d="M493.9,665.6 L745,808 L748,812 L745,819.5 L494.5,677 Z" fill="#fff"/>
<path d="M494.5,667.8 L745,810.3" stroke-width="2.6" stroke="#555"/>
<path d="M496,671.8 L744.5,814.5" stroke-width="2.8" stroke="#333" stroke-dasharray="1.2 1.3"/>
<path d="M494.5,675.5 L745,818" stroke-width="1.6" stroke="#222"/>
<path d="M745,789.4 L761.25,797.5 V807.5 M745,789.4 V808" />
<!-- end motor -->
<path d="M757,826 V842 Q766,849 776,845 V824 Z" fill="#fff"/>
<path d="M757,836.5 Q766,842 776,838.5" />
<path d="M760,838 V844.5 M764,839 V846.5 M768,839.5 V846.5 M772,839 V846 M775,838.5 V845" stroke-width="0.8"/>
<path d="M762,796.5 Q762,792 766,791.5 L774,795.5 Q777,797 777,801 V810 L767,814 L764,812 Z" fill="#fff" stroke-width="1.1"/>
<path d="M764.5,797 L775.5,802 M764.5,799.5 L775.5,804.5" stroke-width="0.8"/>
<path d="M766,810.5 L778,805.5 V822.5 L769,827 L766,825 Z" fill="#fff" stroke-width="1.1"/>
<path d="M766,817.5 L778,812.5" />
<circle cx="725.6" cy="822.5" r="1.2" fill="#222"/><circle cx="728.8" cy="821.5" r="1.2" fill="#222"/>
<circle cx="727.5" cy="829" r="1.2" fill="#222"/><circle cx="730.8" cy="827.5" r="1.2" fill="#222"/>
<!-- guide brackets -->
<rect x="528.9" y="681.25" width="5.6" height="38" fill="#fff"/>
<line x1="531.5" y1="699" x2="531.5" y2="712" stroke-width="1.6"/><circle cx="530" cy="714" r="2" fill="#555"/>
<rect x="695" y="777.5" width="4.4" height="36" fill="#fff"/>
<line x1="697" y1="793" x2="697" y2="808" stroke-width="1.6"/><circle cx="695" cy="810" r="2" fill="#555"/>
<!-- iso clamps -->
<g id="isoC">
<path d="M504.5,696.25 L520.75,686.9" stroke-width="2.6" stroke="#222" stroke-linecap="round"/>
<path d="M504.5,696.25 L520.75,686.9" stroke-width="1.2" stroke="#fff" stroke-linecap="round"/>
<path d="M510,689 Q511,700 515,707 L518,708.5 Q516,700 515,691 Z" fill="#fff"/>
<circle cx="512" cy="685" r="2.2" fill="#fff"/>
</g>
<use href="#isoC" x="62" y="36"/>
<use href="#isoC" x="130" y="75"/>
<use href="#isoC" x="194" y="111"/>
<path d="M498.5,692.5 L502,695" stroke-width="2"/>
<!-- central piece on conveyor -->
<path d="M600,748 L612,741 L630,751 L618,758 Z" fill="#fff"/>
<path d="M600,748 V752 L618,762 V758"/>
<path d="M612,741 L616,739 L634,749 L630,751 Z" fill="#bbb"/>
<!-- ===== hopper ===== -->
<path d="M593,655 L615,691 H638 L664,655 Z" fill="#fff" stroke="none"/>
<path d="M593,655 L615,691 M638,691 L664,655" stroke-width="1.1"/>
<path d="M660.5,661 L637,692" stroke="#666"/>
<rect x="622" y="697" width="12" height="15" fill="#fff" stroke="none"/>
<ellipse cx="628" cy="712.3" rx="10.5" ry="4.2" fill="#fff"/>
<ellipse cx="628" cy="712.3" rx="7" ry="2.6" fill="#fff"/>
<path d="M622,712.3 A6,2 0 0 0 634,712.3 V697.5 M622,697.5 V712.3" fill="#fff"/>
<ellipse cx="626.5" cy="694.5" rx="11.8" ry="3.6" stroke-width="1.4" fill="#fff"/>
<ellipse cx="626.5" cy="692" rx="11.5" ry="2.6" fill="#fff"/>
<!-- plate + ring silhouette -->
<path d="M575.5,614 A52.5,28 0 0 1 680.5,614 L681.5,626 A53.5,39.5 0 0 1 574.5,626 Z" fill="#fff" stroke="none"/>
<ellipse cx="628" cy="614" rx="52.5" ry="28"/>
<path d="M575.8,616.5 A52.5,28 0 0 0 680.2,616.5" stroke="#555"/>
<path d="M574.5,620 V626 A53.5,39.5 0 0 0 681.5,626 V620" stroke-width="1.2"/>
<path d="M576.8,621 V626 A51.2,37.2 0 0 0 679.2,626 V621" stroke-width="1"/>
<path d="M614,639.5 V661.5 M612.7,640 V661.5" stroke-width="0.9"/>
<path d="M663,631.7 V658.5 M661.7,632 V658.5" stroke-width="0.9"/>
<path d="M663,663 L662,680 M661.7,663 L660.7,680" stroke-width="0.8"/>
<!-- small cylinder -->
<path d="M592,578.5 V601 A8,3.2 0 0 0 608,601 V578.5 Z" fill="#fff"/>
<ellipse cx="600" cy="578.5" rx="8" ry="3.4" fill="#fff"/>
<path d="M590.5,600 A9.5,3.6 0 0 0 609,602" stroke-width="1.6"/>
<!-- ring with loop -->
<ellipse cx="652" cy="624" rx="12.4" ry="7.6" stroke-width="1.5" fill="#fff"/>
<ellipse cx="652" cy="623.3" rx="9.5" ry="5.2"/>
<circle cx="579" cy="618.5" r="1.3"/><circle cx="604" cy="625.5" r="2.2" stroke-width="1.3"/><circle cx="614.8" cy="639.4" r="1.4"/><circle cx="663" cy="631.7" r="1.4"/>
<circle cx="675" cy="603.7" r="1.4"/><circle cx="628" cy="621" r="1.3"/>
<!-- ===== housing ===== -->
<path d="M692.9,486.5 L721.1,501.9 L725.1,522.2 V568.6 L645,612.5 L642.2,617 Q624,623 607.5,614 V549 Q606.5,543.5 612.2,540.9 L647.1,520.6 L659.3,505.7 Z" fill="#fff"/>
<path d="M659.3,505.7 L686.9,521.9 L721.1,501.9 M686.9,521.9 L674.7,536.9 L647.1,520.6"/>
<path d="M674.7,536.9 L641.4,556.4 Q622,562 608.5,551"/>
<path d="M641.4,556.4 V617"/>
<g>
<ellipse cx="693.8" cy="501.8" rx="7.6" ry="5" fill="#666" stroke="#222" stroke-width="1.6" stroke-dasharray="1.2 0.8"/>
<ellipse cx="693.8" cy="501.8" rx="5" ry="3.2" fill="none" stroke="#222" stroke-width="1.2" stroke-dasharray="1 0.8"/>
<ellipse cx="693.8" cy="501.8" rx="2.4" ry="1.6" fill="#fff" stroke="#444" stroke-width="0.8"/>
</g>
<path d="M643.3,615 Q642.5,601 648,600.6 Q654,600.6 660.5,615 M643.5,615 Q650,600.6 655.5,600.6 Q661,601 660.6,615" stroke-width="1.1"/>
</g>
<!--LABELS-->
<g class="gt" transform="translate(21.4,309.6) rotate(-90) scale(0.9875)" stroke-width="1.114"><use href="#d1" x="0.00"/><use href="#d7" x="9.92"/><use href="#d8" x="24.91"/><use href="#d0" x="39.90"/><use href="#dc" x="52.35"/><use href="#d5" x="59.24"/></g>
<g class="gt" transform="translate(54.6,384.2) rotate(-90) scale(1.0125)" stroke-width="1.086"><use href="#d8" x="0.00"/><use href="#d5" x="14.62"/><use href="#d0" x="29.04"/></g>
<g class="gt" transform="translate(499.2,265.9) rotate(-90) scale(1.0063)" stroke-width="1.093"><use href="#d2" x="0.00"/><use href="#d1" x="14.51"/><use href="#d2" x="23.95"/><use href="#d8" x="38.46"/></g>
<g class="gt" transform="translate(619,449.8) scale(0.9875)" stroke-width="1.114"><use href="#d8" x="0.00"/><use href="#d2" x="14.18"/><use href="#d0" x="30.18"/></g>
<g class="gt" transform="translate(242.9,839.6) scale(0.9688)" stroke-width="1.135"><use href="#d1" x="0.00"/><use href="#d8" x="10.32"/><use href="#d0" x="25.39"/><use href="#d0" x="38.19"/></g>
</svg>
</body></html>
